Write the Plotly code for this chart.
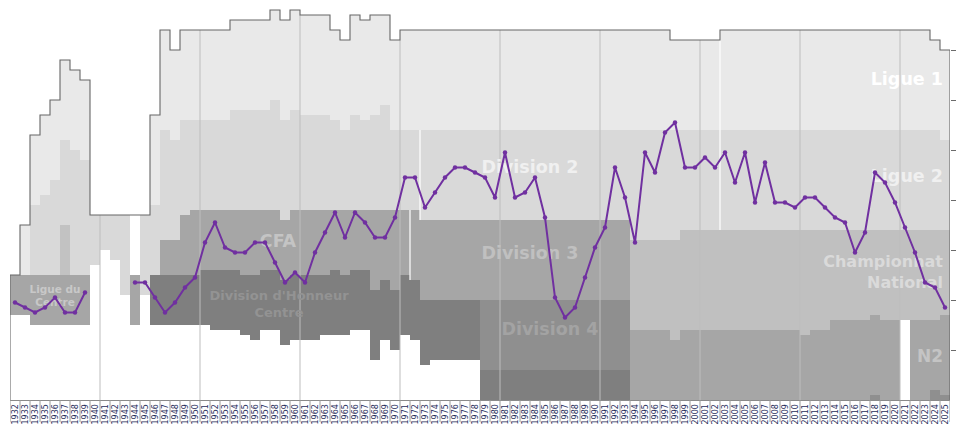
import plotly.graph_objects as go

# ---------------- data ----------------
YEARS = list(range(1932, 2026))

# overall rank of the club in the French league pyramid (1 = top slot of the chart)
POSITION = [61, 62, 63, 62, 60, 63, 63, 59,
            None, None, None, None,
            57, 57, 60, 63, 61, 58, 56,
            49, 45, 50, 51, 51, 49, 49, 53, 57, 55,
            57, 51, 47, 43, 48, 43, 45, 48, 48, 44,
            36, 36, 42, 39, 36, 34, 34, 35, 36, 40,
            31, 40, 39, 36, 44, 60, 64, 62, 56, 50,
            46, 34, 40, 49, 31, 35, 27, 25, 34, 34,
            32, 34, 31, 37, 31, 41, 33, 41, 41, 42,
            40, 40, 42, 44, 45, 51, 47, 35, 37, 41,
            46, 51, 57, 58, 62]

# league spans: (first season, last season, top slot, bottom slot)
LIGUE1 = [(1933, 1933, 45, 55), (1934, 1934, 27, 41), (1935, 1935, 23, 39),
          (1936, 1936, 20, 36), (1937, 1937, 12, 28), (1938, 1938, 14, 30),
          (1939, 1939, 16, 32), (1946, 1946, 23, 41), (1947, 1947, 6, 26),
          (1948, 1948, 10, 28), (1949, 1953, 6, 24), (1954, 1957, 4, 22),
          (1958, 1958, 2, 20), (1959, 1959, 4, 24), (1960, 1960, 2, 22),
          (1961, 1963, 3, 23), (1964, 1964, 6, 24), (1965, 1965, 8, 26),
          (1966, 1966, 3, 23), (1967, 1967, 4, 24), (1968, 1968, 3, 23),
          (1969, 1969, 3, 21), (1970, 1970, 8, 26), (1971, 1997, 6, 26),
          (1998, 2002, 8, 26), (2003, 2023, 6, 26), (2024, 2024, 8, 26),
          (2025, 2025, 10, 28)]

LIGUE2 = [(1934, 1934, 41, 55), (1935, 1935, 39, 55), (1936, 1936, 36, 55),
          (1937, 1937, 28, 45), (1938, 1938, 30, 55), (1939, 1939, 32, 55),
          (1940, 1940, 43, 53), (1941, 1941, 43, 50), (1942, 1942, 43, 52),
          (1943, 1943, 43, 59), (1945, 1945, 43, 59), (1946, 1946, 41, 55),
          (1947, 1947, 26, 48), (1948, 1948, 28, 48), (1949, 1949, 24, 43),
          (1950, 1953, 24, 42), (1954, 1957, 22, 42), (1958, 1958, 20, 42),
          (1959, 1959, 24, 44), (1960, 1960, 22, 42), (1961, 1963, 23, 42),
          (1964, 1964, 24, 42), (1965, 1965, 26, 42), (1966, 1966, 23, 42),
          (1967, 1967, 24, 42), (1968, 1968, 23, 42), (1969, 1969, 21, 42),
          (1970, 1972, 26, 42), (1973, 1993, 26, 44), (1994, 1998, 26, 48),
          (1999, 2024, 26, 46), (2025, 2025, 28, 46)]

WAR_BLANK = [(1944, 1944, 43, 55)]

LEVEL3_1937 = [(1937, 1937, 45, 55)]

CFA_D3 = [(1947, 1948, 48, 55), (1949, 1949, 43, 55), (1950, 1950, 42, 55),
          (1951, 1954, 42, 54), (1955, 1956, 42, 55), (1957, 1958, 42, 54),
          (1959, 1959, 44, 56), (1960, 1963, 42, 55), (1964, 1964, 42, 54),
          (1965, 1965, 42, 55), (1966, 1967, 42, 54), (1968, 1968, 42, 58),
          (1969, 1969, 42, 56), (1970, 1970, 42, 58), (1971, 1971, 42, 55),
          (1972, 1972, 42, 56), (1973, 1993, 44, 60)]

NATIONAL = [(1994, 1997, 48, 66), (1998, 1998, 48, 68), (1999, 2010, 46, 66),
            (2011, 2011, 46, 67), (2012, 2013, 46, 66), (2014, 2017, 46, 64),
            (2018, 2018, 46, 63), (2019, 2024, 46, 64), (2025, 2025, 46, 63)]

N2 = [(1994, 1997, 66, 80), (1998, 1998, 68, 80), (1999, 2010, 66, 80),
      (2011, 2011, 67, 80), (2012, 2013, 66, 80), (2014, 2017, 64, 80),
      (2018, 2018, 63, 79), (2019, 2020, 64, 80), (2022, 2023, 64, 80),
      (2024, 2024, 64, 78), (2025, 2025, 63, 79)]

N3 = [(2018, 2018, 79, 80), (2024, 2024, 78, 80), (2025, 2025, 79, 80)]

DIVISION4 = [(1979, 1993, 60, 74)]

DH_CENTRE = [(1946, 1950, 55, 65), (1951, 1951, 54, 65), (1952, 1954, 54, 66),
             (1955, 1955, 55, 67), (1956, 1956, 55, 68), (1957, 1958, 54, 66),
             (1959, 1959, 56, 69), (1960, 1962, 55, 68), (1963, 1963, 55, 67),
             (1964, 1964, 54, 67), (1965, 1965, 55, 67), (1966, 1967, 54, 66),
             (1968, 1968, 58, 72), (1969, 1969, 56, 68), (1970, 1970, 58, 70),
             (1971, 1971, 55, 67), (1972, 1972, 56, 68), (1973, 1973, 60, 73),
             (1974, 1978, 60, 72), (1979, 1993, 74, 80)]

LIGUE_CENTRE = [(1932, 1933, 55, 63), (1934, 1939, 55, 65), (1944, 1944, 55, 65)]

# white restructuring separators: (boundary after season, top slot, bottom slot)
SEPARATORS = [(1971, 42, 56), (1972, 26, 44), (2002, 6, 46)]

DECADE_LINES = [1940, 1950, 1960, 1970, 1980, 1990, 2000, 2010, 2020]

LABELS = ["Ligue 1", "Ligue 2", "Division 2", "CFA",
          "Division d'Honneur<br>Centre", "Division 3", "Division 4",
          "Championnat<br>National", "N2", "Ligue du<br>Centre"]

# ---------------- styling ----------------
TIERS = [
    (LIGUE1, "#e9e9e9"), (LIGUE2, "#d9d9d9"), (WAR_BLANK, "#ffffff"),
    (LEVEL3_1937, "#c2c2c2"), (CFA_D3, "#a6a6a6"), (NATIONAL, "#c0c0c0"),
    (N2, "#a6a6a6"), (N3, "#8f8f8f"), (DIVISION4, "#8f8f8f"),
    (DH_CENTRE, "#7f7f7f"), (LIGUE_CENTRE, "#a6a6a6"),
]

def expand(spans):
    top = {y: None for y in YEARS}
    bot = {y: None for y in YEARS}
    for a, b, t, u in spans:
        for y in range(a, b + 1):
            top[y] = t
            bot[y] = u
    return [top[y] for y in YEARS], [bot[y] for y in YEARS]

fig = go.Figure()
outline_top = {y: None for y in YEARS}
for spans, color in TIERS:
    tops, bots = expand(spans)
    base, height = [], []
    for y, t, u in zip(YEARS, tops, bots):
        if t is None:
            base.append(None); height.append(None)
        else:
            base.append(t); height.append(u - t)
            if outline_top[y] is None or t < outline_top[y]:
                outline_top[y] = t
    fig.add_trace(go.Bar(x=YEARS, y=height, base=base, width=1,
                         marker=dict(color=color, line=dict(width=0)),
                         hoverinfo="skip", showlegend=False))

BOTTOM = 80
# decade grid lines (from stack top to bottom)
gx, gy = [], []
for d in DECADE_LINES:
    t = max(outline_top[d], outline_top[d + 1])
    gx += [d + 0.5, d + 0.5, None]
    gy += [t, BOTTOM, None]
fig.add_trace(go.Scatter(x=gx, y=gy, mode="lines",
                         line=dict(color="#bdbdbd", width=1),
                         hoverinfo="skip", showlegend=False))

sx, sy = [], []
for d, t, u in SEPARATORS:
    sx += [d + 0.5, d + 0.5, None]
    sy += [t, u, None]
fig.add_trace(go.Scatter(x=sx, y=sy, mode="lines",
                         line=dict(color="#ffffff", width=1.2),
                         hoverinfo="skip", showlegend=False))

# outline of the pyramid
ox = [YEARS[0] - 0.5]
oy = [BOTTOM]
for y in YEARS:
    ox += [y - 0.5, y + 0.5]
    oy += [outline_top[y], outline_top[y]]
ox.append(YEARS[-1] + 0.5)
oy.append(BOTTOM)
fig.add_trace(go.Scatter(x=ox, y=oy, mode="lines",
                         line=dict(color="#666666", width=1.1),
                         hoverinfo="skip", showlegend=False))

# league names (below the club line)
lab_x = [2024.8, 2024.8, 1983.5, 1958.3, 1958.4, 1983.5, 1985.5, 2024.8, 2024.8, 1936.0]
lab_y = [16.1, 35.6, 33.8, 48.6, 61.0, 51.0, 66.2, 54.7, 71.5, 59.4]
lab_pos = ["middle left", "middle left", "middle center", "middle center",
           "middle center", "middle center", "middle center", "middle left",
           "middle left", "middle center"]
lab_size = [17.5, 17.5, 17.5, 17.5, 13, 17.5, 17.5, 16, 17, 10.5]
lab_color = ["#ffffff", "#f0f0f0", "#f0f0f0", "#c4c4c4", "#939393",
             "#c0c0c0", "#a3a3a3", "#dadada", "#c4c4c4", "#c8c8c8"]
fig.add_trace(go.Scatter(x=lab_x, y=lab_y, mode="text",
                         text=["<b>%s</b>" % s for s in LABELS],
                         textposition=lab_pos,
                         textfont=dict(family="DejaVu Sans", size=lab_size, color=lab_color),
                         hoverinfo="skip", showlegend=False))

# club line
fig.add_trace(go.Scatter(x=YEARS, y=[None if p is None else p - 0.5 for p in POSITION],
                         mode="lines+markers", connectgaps=False,
                         line=dict(color="#7030a0", width=2),
                         marker=dict(color="#7030a0", size=4.5),
                         hoverinfo="skip", showlegend=False))

# tick separators under the axis
shapes = []
for y in YEARS + [YEARS[-1] + 1]:
    shapes.append(dict(type="line", xref="x", yref="paper",
                       x0=y - 0.5, x1=y - 0.5, y0=0, y1=-22 / 400,
                       line=dict(color="#9a9a9a", width=1)))

fig.update_layout(
    width=960, height=428,
    margin=dict(l=10, r=10, t=0, b=28),
    paper_bgcolor="white", plot_bgcolor="white",
    barmode="overlay", bargap=0,
    shapes=shapes,
    xaxis=dict(range=[YEARS[0] - 0.5, YEARS[-1] + 0.5],
               tickmode="array", tickvals=YEARS, ticktext=[str(y) for y in YEARS],
               tickangle=-90, ticks="", showgrid=False, zeroline=False,
               showline=True, linecolor="#8a8a8a", linewidth=1,
               tickfont=dict(family="DejaVu Sans", size=8, color="#1f2d5a")),
    yaxis=dict(range=[BOTTOM, 0], side="right", showgrid=False, zeroline=False,
               showticklabels=False, tickmode="array",
               tickvals=[10, 20, 30, 40, 50, 60, 70],
               ticks="outside", ticklen=5, tickcolor="#6a6a6a", tickwidth=1,
               showline=False),
)

fig.write_html("out.html")
